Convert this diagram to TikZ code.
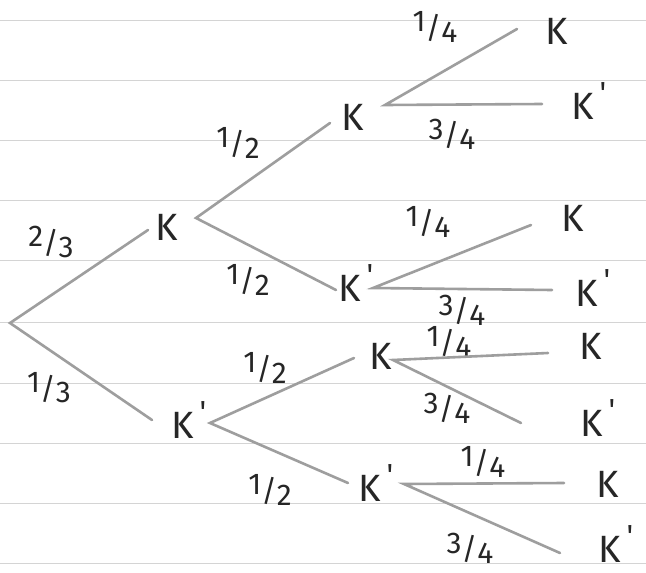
\documentclass[tikz,border=0pt]{standalone}
\usepackage{fontspec}
\setmainfont{Fira Sans}
\newcommand{\pr}{\rlap{\kern0.14em\raisebox{0.42em}{\scalebox{0.8}{\textquotesingle}}}}
\newcommand{\hfr}[2]{\raisebox{0.22em}{#1}/\raisebox{-0.12em}{#2}}
\definecolor{pencil}{RGB}{158,158,158}
\definecolor{rule}{RGB}{212,212,212}
\begin{document}
\begin{tikzpicture}[x=1pt,y=-1pt,
  branch/.style={draw=pencil,line width=2.6pt,line cap=round},
  letter/.style={inner sep=0pt,font=\fontsize{38}{40}\selectfont,text=black!85},
  prob/.style={inner sep=0pt,font=\fontsize{30}{32}\selectfont,text=black!85},
  paper/.style={draw=rule,line width=0.9pt}]
\useasboundingbox (0,0) rectangle (646,573);
\fill[white] (0,0) rectangle (646,573);
% ruled paper
\foreach \yy in {20,80,140,200,260,322,383,443,503,563}
  \draw[paper] (0,\yy) -- (646,\yy);
% letters
\node[letter] (K1) at (167,227) {K};
\node[letter] (K1p) at (183,420) {K\pr};
\node[letter] (K2a) at (353,117) {K};
\node[letter] (K2b) at (350,283) {K\pr};
\node[letter] (K2c) at (381,356) {K};
\node[letter] (K2d) at (370,483) {K\pr};
\node[letter] (L1) at (557,31) {K};
\node[letter] (L2) at (583,101) {K\pr};
\node[letter] (L3) at (573,218) {K};
\node[letter] (L4) at (587,288) {K\pr};
\node[letter] (L5) at (591,346) {K};
\node[letter] (L6) at (592,418) {K\pr};
\node[letter] (L7) at (608,484) {K};
\node[letter] (L8) at (610,544) {K\pr};
% probabilities
\node[prob] (p1) at (51,242) {\hfr{2}{3}};
\node[prob] (p2) at (49,388) {\hfr{1}{3}};
\node[prob] (p3) at (238,143) {\hfr{1}{2}};
\node[prob] (p4) at (248,280) {\hfr{1}{2}};
\node[prob] (p5) at (265,368) {\hfr{1}{2}};
\node[prob] (p6) at (270,490) {\hfr{1}{2}};
\node[prob] (p7) at (435,27) {\hfr{1}{4}};
\node[prob] (p8) at (452,134) {\hfr{3}{4}};
\node[prob] (p9) at (428,222) {\hfr{1}{4}};
\node[prob] (p10) at (462,310) {\hfr{3}{4}};
\node[prob] (p11) at (449,342) {\hfr{1}{4}};
\node[prob] (p12) at (447,408) {\hfr{3}{4}};
\node[prob] (p13) at (483,462) {\hfr{1}{4}};
\node[prob] (p14) at (470,548) {\hfr{3}{4}};
% branch end points
\coordinate (r) at (10,323);
\coordinate (e1) at (148,230);
\coordinate (e2) at (152,420);
\coordinate (s1) at (196,218);
\coordinate (e3) at (330,123);
\coordinate (e4) at (336,290);
\coordinate (s2) at (210,423);
\coordinate (e5) at (354,358);
\coordinate (e6) at (348,483);
\coordinate (s3) at (385,105);
\coordinate (f1) at (517,29);
\coordinate (f2) at (542,104);
\coordinate (s4) at (373,288);
\coordinate (f3) at (531,225);
\coordinate (f4) at (552,290);
\coordinate (s5) at (393,360);
\coordinate (f5) at (548,353);
\coordinate (f6) at (521,423);
\coordinate (s6) at (404,484);
\coordinate (f7) at (564,483);
\coordinate (f8) at (560,553);
% branches
\draw[branch] (e1) -- (r) -- (e2);
\draw[branch] (e3) -- (s1) -- (e4);
\draw[branch] (e5) -- (s2) -- (e6);
\draw[branch] (f1) -- (s3) -- (f2);
\draw[branch] (f3) -- (s4) -- (f4);
\draw[branch] (f5) -- (s5) -- (f6);
\draw[branch] (f7) -- (s6) -- (f8);
\end{tikzpicture}
\end{document}
